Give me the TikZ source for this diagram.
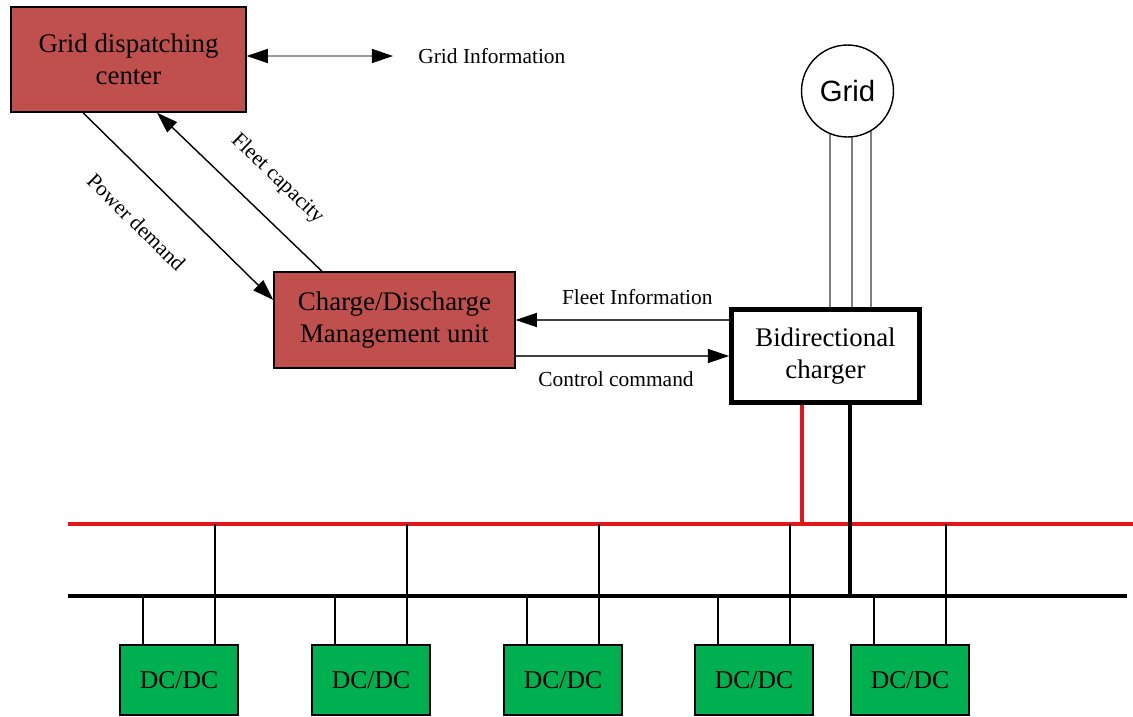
\documentclass[tikz,border=0pt]{standalone}
\usepackage{fontspec}
\setmainfont{Liberation Serif}
\newfontfamily\gridfont{Liberation Sans}
\usepackage{tikz}
\usetikzlibrary{arrows.meta,positioning,backgrounds}
\definecolor{DispatchRed}{HTML}{C0504D}
\definecolor{ConverterGreen}{HTML}{00B050}
\definecolor{BusRed}{HTML}{E0161B}
\definecolor{LinkGray}{HTML}{9A9A9A}
\definecolor{WireGray}{HTML}{7F7F7F}

\begin{document}
\begin{tikzpicture}[
  x=0.02cm, y=-0.02cm,
  box/.style={draw, line width=0.8pt, minimum width=4.7cm,
               minimum height=2.1cm, align=center, inner sep=0pt,
               font=\fontsize{15.3}{18.5}\selectfont},
  dcbox/.style={draw, fill=ConverterGreen, line width=1pt,
               minimum width=2.36cm, minimum height=1.4cm,
               font=\fontsize{14.6}{17}\selectfont},
  gridnode/.style={circle, draw, fill=white, line width=0.8pt,
               minimum size=1.84cm, inner sep=0pt,
               font=\gridfont\fontsize{16.7}{19}\selectfont},
  lbl/.style={font=\fontsize{12.2}{14}\selectfont, inner sep=0pt},
  arr/.style={-{Triangle[length=12pt, width=8pt]}, line width=0.8pt},
  link/.style={-{Triangle[length=12pt, width=8pt, color=black]},
               line width=0.6pt, black!75},
  acline/.style={WireGray, line width=0.6pt},
  bus/.style={line width=1.8pt},
  feeder/.style={line width=1.1pt}
]
  \useasboundingbox (0,0) rectangle (1133,717);

  \node[box, fill=DispatchRed] (disp) at (128.5,59.5)
    {Grid dispatching\\center};
  \node[lbl, anchor=west] (gi) at (418,56) {Grid Information};
  \node[box, fill=DispatchRed, minimum width=4.82cm,
        minimum height=1.92cm] (cdu) at (394.5,320)
    {Charge/Discharge\\Management unit};
  \node[box, line width=2.8pt, minimum width=3.76cm,
        minimum height=1.86cm] (chg) at (825.5,356)
    {Bidirectional\\charger};
  \node[gridnode] (grd) at (847.5,91) {Grid};

  % three phase lines from the grid
  \begin{scope}[on background layer]
    \foreach \dx in {-17.5,4.5,23.5}
      \draw[acline] ([xshift=\dx*0.02cm]grd.center)
        -- ([xshift=\dx*0.02cm]grd.center |- chg.north);
  \end{scope}

  % information flow
  \draw[{Triangle[length=12pt, width=8pt, color=black]}-{Triangle[length=12pt, width=8pt, color=black]},
        LinkGray, line width=0.7pt]
    (gi.west -| disp.east) -- ([xshift=-0.5cm]gi.west);
  \draw[arr] ([xshift=-0.91cm]disp.south)
    -- node[lbl, sloped, pos=0.43, below=0.65cm] {Power demand}
    ([yshift=0.4cm]cdu.west);
  \draw[arr] ([xshift=-1.45cm]cdu.north)
    -- node[lbl, sloped, pos=0.42, above=0.5cm] {Fleet capacity}
    ([xshift=0.57cm]disp.south);
  \draw[link] (chg.west |- cdu.east)
    -- node[lbl, above=0.3cm, pos=0.43, black] {Fleet Information}
    (cdu.east);
  \draw[link] (chg.west -| cdu.east)
    -- node[lbl, below=0.3cm, pos=0.47, black] {Control command}
    (chg.west);

  % DC bus bars
  \coordinate (rbusL) at (68,524);
  \coordinate (rbusR) at (1133,524);
  \coordinate (bbusL) at (68,596);
  \coordinate (bbusR) at (1127,596);
  \draw[bus, BusRed] (rbusL) -- (rbusR);
  \draw[bus] (bbusL) -- (bbusR);
  \draw[bus, BusRed] ([xshift=-0.47cm]chg.south)
    -- ([xshift=-0.47cm]chg.south |- rbusL);
  \draw[line width=2pt] ([xshift=0.49cm]chg.south)
    -- ([xshift=0.49cm]chg.south |- bbusL);

  % converters
  \foreach \cx [count=\i] in {179,371,563,754,910} {
    \node[dcbox] (dc\i) at (\cx,680) {DC/DC};
    \draw[feeder] ([xshift=-0.72cm]dc\i.north)
      -- ([xshift=-0.72cm]dc\i.north |- bbusL);
    \draw[feeder] ([xshift=0.72cm]dc\i.north)
      -- ([xshift=0.72cm]dc\i.north |- rbusL);
  }
\end{tikzpicture}
\end{document}
